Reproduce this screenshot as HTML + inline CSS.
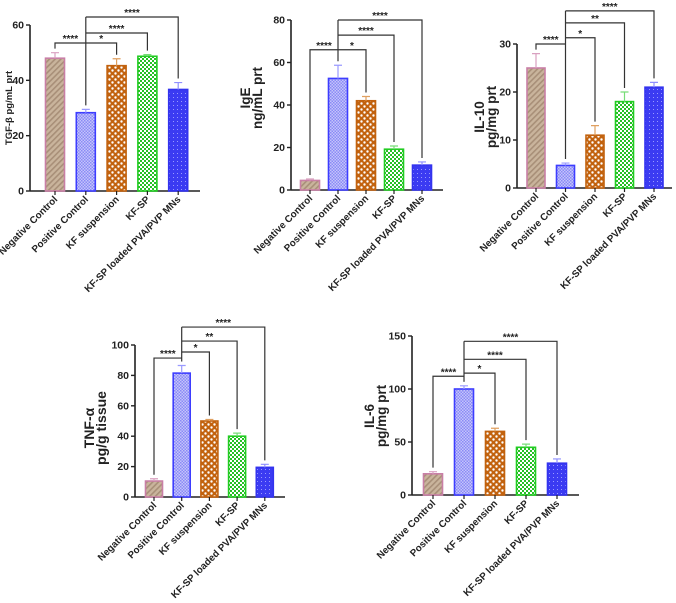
<!DOCTYPE html>
<html><head><meta charset="utf-8"><style>
html,body{margin:0;padding:0;background:#fff;}
svg{display:block;font-family:"Liberation Sans",Arial,sans-serif;}
</style></head><body>
<svg id="fig" width="676" height="603" viewBox="0 0 676 603">
<defs>
<pattern id="pNC" width="4" height="4" patternUnits="userSpaceOnUse" patternTransform="rotate(45)"><rect width="4" height="4" fill="#c9b49c"/><rect width="1.6" height="4" fill="#a88f78"/></pattern>
<pattern id="pPC" width="3" height="3" patternUnits="userSpaceOnUse"><rect width="3" height="3" fill="#c4c4fb"/><rect width="1.5" height="1.5" fill="#8a8af6"/><rect x="1.5" y="1.5" width="1.5" height="1.5" fill="#8a8af6"/></pattern>
<pattern id="pKS" width="6" height="6" patternUnits="userSpaceOnUse"><rect width="6" height="6" fill="#c2620e"/><circle cx="1.5" cy="1.5" r="1.2" fill="#fff"/><circle cx="4.5" cy="4.5" r="1.2" fill="#fff"/></pattern>
<pattern id="pSP" width="4" height="4" patternUnits="userSpaceOnUse"><rect width="4" height="4" fill="#fff"/><rect width="2" height="2" fill="#25c025"/><rect x="2" y="2" width="2" height="2" fill="#25c025"/></pattern>
<pattern id="pMN" width="4" height="4" patternUnits="userSpaceOnUse"><rect width="4" height="4" fill="#3b3bf2"/><rect x="1" y="1" width="1" height="1" fill="#9a9aff"/></pattern>
</defs>
</svg>
<script>
const categories = ["Negative Control","Positive Control","KF suspension","KF-SP","KF-SP loaded PVA/PVP MNs"];
const tgfValues = [48, 28.3, 45.3, 48.7, 36.7];
const tgfErrors = [2, 1.2, 2.5, 0.6, 2.5];
const tgfTicks = [0, 20, 40, 60];
const tgfSigLevels = [53.5, 53.5, 57.1, 62.9];
const igeValues = [4.5, 52.5, 42, 19.2, 11.7];
const igeErrors = [0.7, 6.2, 2, 1.5, 1.5];
const igeTicks = [0, 20, 40, 60, 80];
const igeSigLevels = [66, 66, 72.9, 80];
const il10Values = [25, 4.7, 11, 18, 21];
const il10Errors = [3, 0.5, 2, 2, 1];
const il10Ticks = [0, 10, 20, 30];
const il10SigLevels = [30, 31.3, 34.4, 36.9];
const tnfValues = [10.5, 81.5, 50, 40, 19.5];
const tnfErrors = [1.5, 5, 1, 2, 2];
const tnfTicks = [0, 20, 40, 60, 80, 100];
const tnfSigLevels = [91.4, 95.4, 102.6, 111.8];
const il6Values = [20, 100, 60, 45, 30];
const il6Errors = [2, 3, 3, 3, 4];
const il6Ticks = [0, 50, 100, 150];
const il6SigLevels = [112, 115, 128, 145];
// stars for comparisons vs positive control: [NC, KF susp, KF-SP, MNs]
const tgfStars = ["****","*","****","****"];
const igeStars = ["****","*","****","****"];
const il10Stars = ["****","*","**","****"];
const tnfStars = ["****","*","**","****"];
const il6Stars = ["****","*","****","****"];

const fills = ["url(#pNC)","url(#pPC)","url(#pKS)","url(#pSP)","url(#pMN)"];
const strokes = ["#c97fa6","#3d3dff","#c2620e","#22cc22","#3333ee"];
const errCols = ["#d9a0c0","#9a9aff","#e0a060","#77dd77","#8f8fff"];
const NS = "http://www.w3.org/2000/svg";
const svg = document.getElementById("fig");
function mk(tag, attrs, parent, txt){
  const e = document.createElementNS(NS, tag);
  for (const k in attrs) e.setAttribute(k, attrs[k]);
  if (txt !== undefined) e.textContent = txt;
  parent.appendChild(e);
  return e;
}
function drawChart(c){
  const g = mk("g", {}, svg);
  
  
  const maxV = c.ticks[c.ticks.length-1];
  const y = v => c.base - (c.base - c.top) * v / maxV;
  const x = i => c.first + i * c.step;
  const ya = mk("line", {x1:c.x0, y1:c.top, x2:c.x0, y2:c.base, stroke:"#222", "stroke-width":1.6}, g);
  
  
  const xa = mk("line", {x1:c.x0, y1:c.base, x2:c.xEnd, y2:c.base, stroke:"#222", "stroke-width":1.6}, g);
  
  
  c.ticks.forEach(t => {
    mk("line", {x1:c.x0-4, y1:y(t), x2:c.x0, y2:y(t), stroke:"#222", "stroke-width":1.4}, g);
    const tl = mk("text", {x:c.x0-6, y:y(t)+3.5, "text-anchor":"end", "font-size":10.5, "font-weight":"bold", fill:"#222"}, g, String(t));
    
    
  });
  c.values.forEach((v, i) => {
    const cx = x(i);
    const b = mk("rect", {x:cx-c.bw/2, y:y(v), width:c.bw, height:c.base-y(v), fill:fills[i], stroke:strokes[i], "stroke-width":1.6}, g);
    
    
    const et = y(v + c.errors[i]);
    const eb = mk("path", {d:`M${cx},${y(v)}V${et}M${cx-4},${et}H${cx+4}`, stroke:errCols[i], "stroke-width":1.2, fill:"none"}, g);
    
    
    mk("line", {x1:cx, y1:c.base, x2:cx, y2:c.base+4, stroke:"#222", "stroke-width":1.2}, g);
    const lab = mk("text", {x:cx+3, y:c.base+9, "text-anchor":"end", "font-size":9.8, "font-weight":"bold", fill:"#222", transform:`rotate(-45 ${cx+3} ${c.base+9})`}, g, categories[i]);
    
    
  });
  const targets = [0, 2, 3, 4];
  const pc = 1;
  const top = Math.min(...c.sig.map(y));
  const pcEnd = y(c.values[pc] + c.errors[pc]) - 4;
  mk("line", {x1:x(pc), y1:top, x2:x(pc), y2:pcEnd, stroke:"#333", "stroke-width":1.2}, g);
  targets.forEach((t, k) => {
    const ly = y(c.sig[k]);
    const tEnd = y(c.values[t] + c.errors[t]) - 4;
    const br = mk("path", {d:`M${x(pc)},${ly}H${x(t)}V${tEnd}`, stroke:"#333", "stroke-width":1.2, fill:"none"}, g);
    
    
    const st = mk("text", {x:(x(pc)+x(t))/2, y:ly-1, "text-anchor":"middle", "font-size":10, "font-weight":"bold", fill:"#222"}, g, c.stars[k]);
    
    
  });
  c.title.forEach((line, i) => {
    const tx = c.titleX + i * c.lineGap;
    const yt = mk("text", {transform:`translate(${tx},${c.titleY}) rotate(-90)`, x:0, y:0, "text-anchor":"middle", "font-size":c.titleSize, "font-weight":"bold", fill:"#222"}, g, line);
    
    
  });
}
drawChart({name:"tgf", values:tgfValues, errors:tgfErrors, ticks:tgfTicks, sig:tgfSigLevels, stars:tgfStars,
  x0:30, xEnd:200, top:25, base:191, first:55, step:30.8, bw:19, title:["TGF-β pg/mL prt"], titleX:12, titleY:108, titleSize:9.5, lineGap:0});
drawChart({name:"ige", values:igeValues, errors:igeErrors, ticks:igeTicks, sig:igeSigLevels, stars:igeStars,
  x0:291, xEnd:443, top:20, base:190, first:310, step:28, bw:19, title:["IgE","ng/mL prt"], titleX:250, titleY:98, titleSize:13.5, lineGap:12});
drawChart({name:"il10", values:il10Values, errors:il10Errors, ticks:il10Ticks, sig:il10SigLevels, stars:il10Stars,
  x0:517, xEnd:672, top:44, base:188, first:536, step:29.5, bw:18, title:["IL-10","pg/mg prt"], titleX:484, titleY:117, titleSize:13.5, lineGap:12});
drawChart({name:"tnf", values:tnfValues, errors:tnfErrors, ticks:tnfTicks, sig:tnfSigLevels, stars:tnfStars,
  x0:135, xEnd:285, top:345, base:497, first:154, step:27.7, bw:17, title:["TNF-α","pg/g tissue"], titleX:94, titleY:428, titleSize:14, lineGap:12});
drawChart({name:"il6", values:il6Values, errors:il6Errors, ticks:il6Ticks, sig:il6SigLevels, stars:il6Stars,
  x0:412, xEnd:579, top:336, base:495, first:433, step:31, bw:19, title:["IL-6","pg/mg prt"], titleX:374, titleY:416, titleSize:13.5, lineGap:12});
</script>
</body></html>
